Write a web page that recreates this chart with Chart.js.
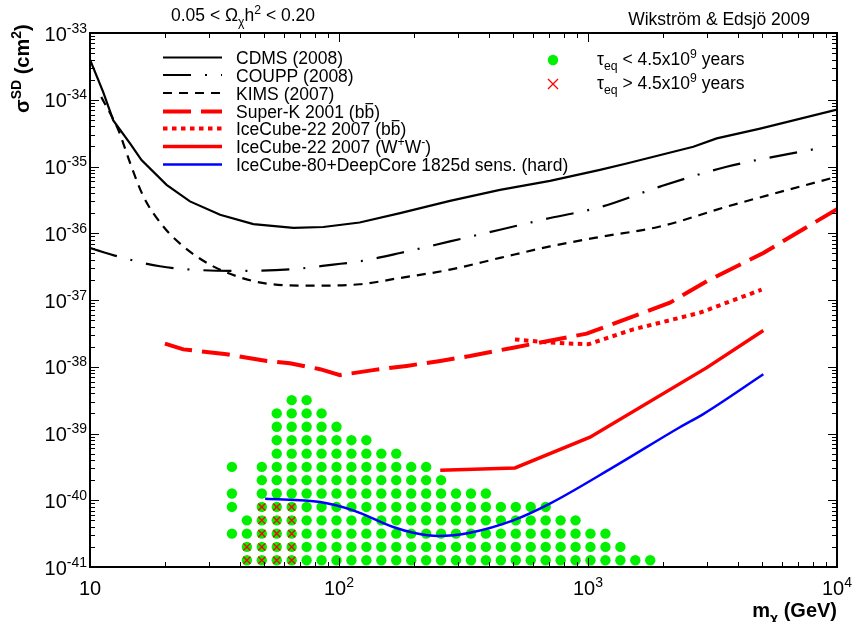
<!DOCTYPE html>
<html>
<head>
<meta charset="utf-8">
<title>Spin-dependent cross section limits</title>
<script src="https://cdn.jsdelivr.net/npm/chart.js"></script>
<style>
    html, body { margin: 0; padding: 0; background: #fff; }
    #wrap { width: 857px; height: 622px; position: relative; }
</style>
</head>
<body>
<div id="wrap"><canvas id="chart"></canvas></div>
<script>
// --- data (mass in GeV, cross section in cm^2) ---
const cdmsMass  = [10, 11.3, 12.4, 14.5, 16.1, 20.3, 25.2, 33.3, 45.3, 65.6, 86.5, 121, 176, 279, 443, 704, 1117, 1429, 2648, 3289, 4913, 10000];
const cdmsSigma = [4.0e-34, 1.3e-34, 4.9e-35, 2.2e-35, 1.25e-35, 5.3e-36, 3.0e-36, 1.89e-36, 1.37e-36, 1.2e-36, 1.24e-36, 1.45e-36, 2.0e-36, 3.05e-36, 4.46e-36, 6.1e-36, 8.9e-36, 1.11e-35, 1.98e-35, 2.64e-35, 3.7e-35, 7.1e-35];

const couppMass  = [10, 13.6, 19.1, 28.5, 42.6, 65.6, 94.8, 121, 176, 279, 443, 704, 1117, 1945, 3604, 8410];
const couppSigma = [6.0e-37, 4.27e-37, 3.2e-37, 2.79e-37, 2.73e-37, 2.9e-37, 3.39e-37, 3.8e-37, 5.06e-37, 7.55e-37, 1.13e-36, 1.69e-36, 2.46e-36, 5.0e-36, 9.9e-36, 1.87e-35];

const kimsMass  = [11.1, 13.0, 14.5, 16.4, 19.7, 23.7, 30.3, 38.8, 51.3, 76.6, 121, 176, 279, 443, 704, 1117, 1945, 3604, 10000];
const kimsSigma = [1.1e-34, 3.5e-35, 1.12e-35, 3.54e-36, 1.26e-36, 6.35e-37, 3.39e-37, 2.27e-37, 1.76e-37, 1.64e-37, 1.72e-37, 2.14e-37, 2.85e-37, 4.27e-37, 6.35e-37, 8.8e-37, 1.26e-36, 2.5e-36, 7.05e-36];

const superkMass  = [20, 23.7, 35.4, 51.3, 63.5, 83.9, 101, 137, 187, 255, 336, 501, 988, 2133, 3000, 5060, 10000];
const superkSigma = [2.22e-38, 1.82e-38, 1.54e-38, 1.22e-38, 1.13e-38, 9.2e-39, 7.5e-39, 8.9e-39, 1.03e-38, 1.22e-38, 1.45e-38, 1.93e-38, 3.13e-38, 9.1e-38, 1.91e-37, 5.06e-37, 2.3e-36];

const ic22bbMass  = [509, 661, 820, 1002, 1520, 2818, 4980];
const ic22bbSigma = [2.57e-38, 2.34e-38, 2.24e-38, 2.17e-38, 3.63e-38, 6.45e-38, 1.43e-37];

const ic22wwMass  = [255, 509, 1019, 3000, 5060];
const ic22wwSigma = [2.82e-40, 3.05e-40, 8.8e-40, 9.7e-39, 3.5e-38];

const ic80Mass  = [50.5, 84, 114, 165, 199, 250, 336, 501, 703, 1264, 2338, 2904, 5060];
const ic80Sigma = [1.05e-40, 9.4e-41, 7.05e-41, 3.98e-41, 3.27e-41, 2.92e-41, 3.27e-41, 5.0e-41, 8.9e-41, 3.13e-40, 1.24e-39, 1.95e-39, 7.7e-39];

// model scan grid (columns = masses, rows = cross sections)
const gridMass = [37.15, 42.66, 48.98, 56.23, 64.57, 74.13, 85.11, 97.72, 112.2, 128.8, 147.9, 169.8, 195.0, 223.9,
                  257.0, 295.1, 338.8, 389.0, 446.7, 512.9, 588.8, 676.1, 776.2, 891.3, 1023, 1175, 1349, 1549, 1778];
const gridSigma = [1.26e-41, 2.0e-41, 3.16e-41, 5.0e-41, 7.94e-41, 1.26e-40, 2.0e-40, 3.16e-40, 5.0e-40, 7.94e-40, 1.26e-39, 2.0e-39, 3.16e-39];
// column index runs per row: [first, last] pairs
const fastRuns = [
    [[1, 28]], [[1, 26]], [[0, 25]], [[1, 23]], [[0, 0], [2, 21]], [[0, 0], [2, 17]], [[2, 14]],
    [[0, 0], [2, 13]], [[3, 11]], [[3, 9]], [[3, 7]], [[3, 6]], [[4, 5]]
];
const slowRuns = [[[1, 4]], [[1, 4]], [[2, 4]], [[2, 4]], [[2, 4]]];

const FONT = '"Liberation Sans", Arial, Helvetica, sans-serif';

function pts(xs, ys) {
    return xs.map((v, i) => ({ x: v, y: ys[i] }));
}
function gridPts(runs) {
    const out = [];
    runs.forEach((row, j) => {
        row.forEach(([a, b]) => {
            for (let k = a; k <= b; k++) out.push({ x: gridMass[k], y: gridSigma[j] });
        });
    });
    return out;
}

// draws text made of pieces: [text, kind] with kind 'n', 'sup', 'sub', 'bar'
function rich(ctx, parts, x, y, align, size, bold) {
    const w = bold ? 'bold ' : '';
    const small = size * 0.7;
    let total = 0;
    const widths = parts.map(([t, k]) => {
        ctx.font = w + ((k === 'sup' || k === 'sub') ? small : size) + 'px ' + FONT;
        const m = ctx.measureText(t).width;
        total += m;
        return m;
    });
    if (align === 'right') x -= total;
    else if (align === 'center') x -= total / 2;
    ctx.textAlign = 'left';
    ctx.textBaseline = 'alphabetic';
    parts.forEach(([t, k], i) => {
        const s = (k === 'sup' || k === 'sub') ? small : size;
        ctx.font = w + s + 'px ' + FONT;
        let dy = 0;
        if (k === 'sup') dy = -size * 0.4;
        if (k === 'sub') dy = size * 0.28;
        ctx.fillText(t, x, y + dy);
        if (k === 'bar') {
            ctx.save();
            ctx.lineWidth = 1.2;
            ctx.beginPath();
            ctx.moveTo(x + 1, y - size * 0.82);
            ctx.lineTo(x + widths[i] - 1, y - size * 0.82);
            ctx.stroke();
            ctx.restore();
        }
        x += widths[i];
    });
}

const decor = {
    id: 'decor',
    afterDraw(chart) {
        const { ctx, chartArea: a, scales: { x, y } } = chart;
        ctx.save();
        ctx.fillStyle = '#000';
        ctx.strokeStyle = '#000';

        // ticks on all four sides, pointing inwards
        ctx.lineWidth = 1;
        ctx.beginPath();
        for (let e = 1; e <= 4; e++) {
            for (let d = 1; d <= 9; d++) {
                if (e === 4 && d > 1) break;
                const px = Math.round(x.getPixelForValue(d * Math.pow(10, e))) + 0.5;
                const len = d === 1 ? 9 : 5;
                ctx.moveTo(px, a.bottom); ctx.lineTo(px, a.bottom - len);
                ctx.moveTo(px, a.top); ctx.lineTo(px, a.top + len);
            }
        }
        for (let e = -41; e <= -33; e++) {
            for (let d = 1; d <= 9; d++) {
                if (e === -33 && d > 1) break;
                const py = Math.round(y.getPixelForValue(d * Math.pow(10, e))) + 0.5;
                const len = d === 1 ? 9 : 5;
                ctx.moveTo(a.left, py); ctx.lineTo(a.left + len, py);
                ctx.moveTo(a.right, py); ctx.lineTo(a.right - len, py);
            }
        }
        ctx.stroke();

        // frame
        ctx.lineWidth = 2;
        ctx.strokeRect(a.left, a.top, a.right - a.left, a.bottom - a.top);

        // tick labels
        for (let e = 1; e <= 4; e++) {
            const px = x.getPixelForValue(Math.pow(10, e));
            const parts = e === 1 ? [['10', 'n']] : [['10', 'n'], [String(e), 'sup']];
            rich(ctx, parts, px, a.bottom + 28, 'center', 20, false);
        }
        for (let e = -41; e <= -33; e++) {
            const py = y.getPixelForValue(Math.pow(10, e));
            rich(ctx, [['10', 'n'], [String(e), 'sup']], a.left - 3, py + 7.5, 'right', 20, false);
        }

        // axis titles
        rich(ctx, [['m', 'n'], ['\u03c7', 'sub'], [' (GeV)', 'n']], a.right, 617, 'right', 20, true);
        ctx.save();
        ctx.translate(29, 113);
        ctx.rotate(-Math.PI / 2);
        rich(ctx, [['\u03c3', 'n'], ['SD', 'sup'], [' (cm', 'n'], ['2', 'sup'], [')', 'n']], 0, 0, 'left', 20, true);
        ctx.restore();

        // header texts
        rich(ctx, [['0.05 < \u03a9', 'n'], ['\u03c7', 'sub'], ['h', 'n'], ['2', 'sup'], [' < 0.20', 'n']], 171, 21, 'left', 17.5, false);
        rich(ctx, [['Wikstr\u00f6m & Edsj\u00f6 2009', 'n']], 810, 25, 'right', 17.5, false);

        // left legend (line samples)
        const rows = [
            [0, 57.5, [['CDMS (2008)', 'n']]],
            [1, 75, [['COUPP (2008)', 'n']]],
            [2, 93, [['KIMS (2007)', 'n']]],
            [3, 111.5, [['Super-K 2001 (b', 'n'], ['b', 'bar'], [')', 'n']]],
            [4, 128.5, [['IceCube-22 2007 (b', 'n'], ['b', 'bar'], [')', 'n']]],
            [5, 146.5, [['IceCube-22 2007 (W', 'n'], ['+', 'sup'], ['W', 'n'], ['-', 'sup'], [')', 'n']]],
            [6, 164.5, [['IceCube-80+DeepCore 1825d sens. (hard)', 'n']]]
        ];
        rows.forEach(([i, cy, parts]) => {
            const ds = chart.data.datasets[i];
            ctx.save();
            ctx.strokeStyle = ds.borderColor;
            ctx.lineWidth = ds.borderWidth;
            ctx.setLineDash(ds.borderDash || []);
            ctx.beginPath();
            ctx.moveTo(163, cy); ctx.lineTo(222, cy);
            ctx.stroke();
            ctx.restore();
            ctx.fillStyle = '#000';
            ctx.strokeStyle = '#000';
            rich(ctx, parts, 236, cy + 6.5, 'left', 17.5, false);
        });

        // right legend (markers)
        const dots = chart.data.datasets[8];
        const crosses = chart.data.datasets[7];
        ctx.fillStyle = dots.backgroundColor;
        ctx.beginPath();
        ctx.arc(553, 60, dots.pointRadius, 0, Math.PI * 2);
        ctx.fill();
        ctx.strokeStyle = crosses.borderColor;
        ctx.lineWidth = 1.3;
        ctx.beginPath();
        ctx.moveTo(548, 79); ctx.lineTo(558, 89);
        ctx.moveTo(558, 79); ctx.lineTo(548, 89);
        ctx.stroke();
        ctx.fillStyle = '#000';
        rich(ctx, [['\u03c4', 'n'], ['eq', 'sub'], [' < 4.5x10', 'n'], ['9', 'sup'], [' years', 'n']], 597, 65, 'left', 17.5, false);
        rich(ctx, [['\u03c4', 'n'], ['eq', 'sub'], [' > 4.5x10', 'n'], ['9', 'sup'], [' years', 'n']], 597, 89, 'left', 17.5, false);

        ctx.restore();
    }
};

const lineBase = { showLine: true, pointRadius: 0, fill: false, order: 0 };

const chart = new Chart(document.getElementById('chart'), {
    type: 'scatter',
    data: {
        datasets: [
            Object.assign({ label: 'CDMS (2008)', data: pts(cdmsMass, cdmsSigma), borderColor: '#000000', borderWidth: 2.2, tension: 0 }, lineBase),
            Object.assign({ label: 'COUPP (2008)', data: pts(couppMass, couppSigma), borderColor: '#000000', borderWidth: 2.2, borderDash: [28, 14, 2, 14], cubicInterpolationMode: 'monotone' }, lineBase),
            Object.assign({ label: 'KIMS (2007)', data: pts(kimsMass, kimsSigma), borderColor: '#000000', borderWidth: 2.2, borderDash: [9, 7], cubicInterpolationMode: 'monotone' }, lineBase),
            Object.assign({ label: 'Super-K 2001', data: pts(superkMass, superkSigma), borderColor: '#ff0000', borderWidth: 4, borderDash: [28, 10] }, lineBase),
            Object.assign({ label: 'IceCube-22 2007 bb', data: pts(ic22bbMass, ic22bbSigma), borderColor: '#ff0000', borderWidth: 4, borderDash: [4.5, 4.5] }, lineBase),
            Object.assign({ label: 'IceCube-22 2007 WW', data: pts(ic22wwMass, ic22wwSigma), borderColor: '#ff0000', borderWidth: 3.5 }, lineBase),
            Object.assign({ label: 'IceCube-80+DeepCore', data: pts(ic80Mass, ic80Sigma), borderColor: '#0000ff', borderWidth: 2.5, cubicInterpolationMode: 'monotone' }, lineBase),
            {
                label: 'tau_eq > 4.5e9 years',
                data: gridPts(slowRuns),
                pointStyle: 'crossRot',
                pointRadius: 5,
                borderColor: '#ff0000',
                backgroundColor: '#ff0000',
                borderWidth: 1.4,
                order: 1
            },
            {
                label: 'tau_eq < 4.5e9 years',
                data: gridPts(fastRuns),
                pointRadius: 5.2,
                backgroundColor: '#00f000',
                borderColor: '#00f000',
                borderWidth: 0,
                order: 2
            }
        ]
    },
    options: {
        responsive: true,
        maintainAspectRatio: false,
        animation: false,
        events: [],
        layout: { padding: { left: 90, right: 20, top: 33, bottom: 55 } },
        plugins: { legend: { display: false }, tooltip: { enabled: false } },
        scales: {
            x: { type: 'logarithmic', min: 10, max: 10000, display: false },
            y: { type: 'logarithmic', min: 1e-41, max: 1e-33, display: false }
        }
    },
    plugins: [decor]
});
</script>
</body>
</html>
